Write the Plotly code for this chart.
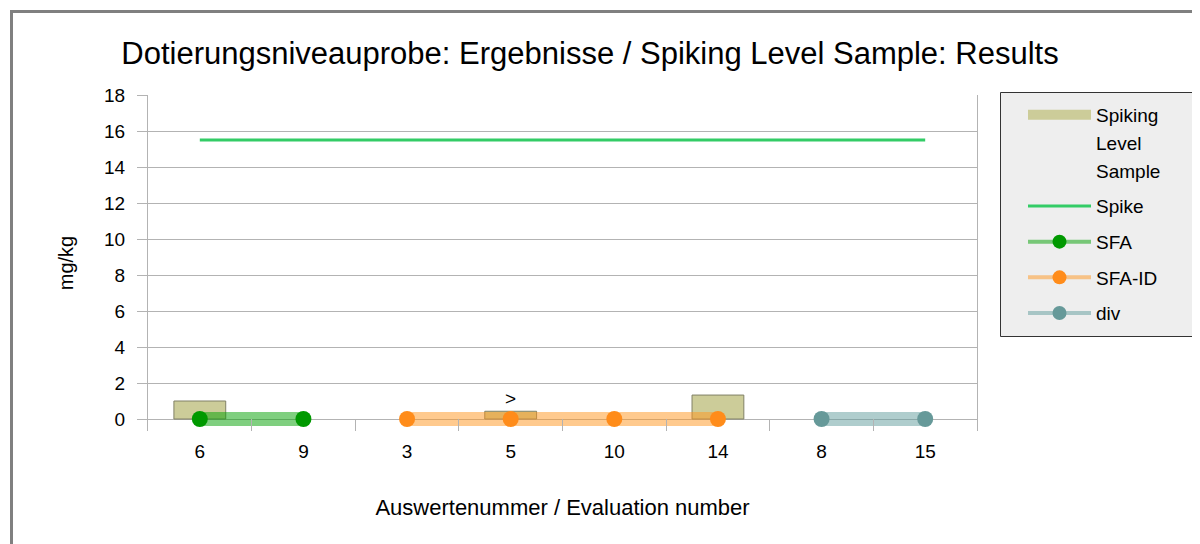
import plotly.graph_objects as go

# ---- data ----
categories = ["6", "9", "3", "5", "10", "14", "8", "15"]
spiking_level = [1.0, None, None, 0.43, None, 1.33, None, None]
spike_x = ["6", "15"]
spike_y = [15.5, 15.5]
sfa_x = ["6", "9"]
sfa_y = [0, 0]
sfaid_x = ["3", "5", "10", "14"]
sfaid_y = [0, 0, 0, 0]
div_x = ["8", "15"]
div_y = [0, 0]
bar_label_cat = "5"
bar_label_value = 0.43
bar_label_text = ">"
y_max = 18
y_dtick = 2

FONT = "Liberation Sans, Arial, sans-serif"
OFF = 8  # browser body margin
W, H = 1200 - OFF, 544 - OFF
# plot area in page pixels: x 148..977, y 95..431 (value 0 sits at y 419)
PX0, PX1, PY0, PY1 = 148, 977, 95, 431
ML, MR = PX0 - OFF, W - (PX1 - OFF)
MT, MB = PY0 - OFF, H - (PY1 - OFF)
PW, PH = PX1 - PX0, PY1 - PY0
Y_MIN = -12 / 18  # room below zero so the thick bands are not clipped


def px2x(px):
    return (px - PX0) / PW


def px2y(py):
    return (PY1 - py) / PH


fig = go.Figure()

# bars
fig.add_trace(go.Bar(
    x=categories, y=spiking_level, width=0.5,
    marker=dict(color="#cccc99", line=dict(color="#808066", width=1)),
    name="Spiking Level Sample", showlegend=False,
))

# spike line
fig.add_trace(go.Scatter(
    x=spike_x, y=spike_y, mode="lines",
    line=dict(color="#33cc66", width=3),
    name="Spike", legendgroup="g2", legendrank=10, showlegend=True,
))

series = [
    ("SFA", sfa_x, sfa_y, "rgba(0,160,0,0.5)", "#009900"),
    ("SFA-ID", sfaid_x, sfaid_y, "rgba(255,150,30,0.5)", "#ff8c1a"),
    ("div", div_x, div_y, "rgba(95,155,155,0.5)", "#669999"),
]
for name, xs, ys, lc, mc in series:
    fig.add_trace(go.Scatter(
        x=xs, y=ys, mode="lines+markers",
        line=dict(color=lc, width=14),
        marker=dict(color=mc, size=16),
        name=name, legendgroup=name, showlegend=False, cliponaxis=False,
    ))

# legend entries (legend-only traces)
fig.add_trace(go.Scatter(
    x=[None], y=[None], mode="lines",
    line=dict(color="#cccc99", width=12),
    name="Spiking", legendgroup="g1", legendrank=1, showlegend=True,
))
for i, word in enumerate(["Level", "Sample"]):
    fig.add_trace(go.Scatter(
        x=[None], y=[None], mode="lines",
        line=dict(color="rgba(0,0,0,0)", width=1),
        name=word, legendgroup="g1", legendrank=2 + i, showlegend=True,
    ))
for k, (name, xs, ys, lc, mc) in enumerate(series):
    fig.add_trace(go.Scatter(
        x=[None], y=[None], mode="lines+markers",
        line=dict(color=lc, width=4),
        marker=dict(color=mc, size=14),
        name=name, legendgroup=name, legendrank=20 + k, showlegend=True,
    ))

fig.add_annotation(
    x=categories.index(bar_label_cat), y=bar_label_value, text=bar_label_text,
    showarrow=False, yanchor="bottom", yshift=0,
    font=dict(family=FONT, size=19, color="#000"),
)

# outer frame
fig.add_shape(
    type="rect", xref="paper", yref="paper",
    x0=px2x(11.5), x1=px2x(1215), y0=px2y(560), y1=px2y(11.5),
    line=dict(color="#808080", width=3), fillcolor="rgba(0,0,0,0)", layer="below",
)
# legend box
fig.add_shape(
    type="rect", xref="paper", yref="paper",
    x0=px2x(1000.5), x1=px2x(1193.5), y0=px2y(336.5), y1=px2y(92.5),
    line=dict(color="#333333", width=1), fillcolor="#eeeeee", layer="above",
)

fig.update_layout(
    width=W, height=H,
    margin=dict(l=ML, r=MR, t=MT, b=MB, autoexpand=False),
    paper_bgcolor="white", plot_bgcolor="white",
    font=dict(family=FONT, size=19, color="#000"),
    title=dict(
        text="Dotierungsniveauprobe: Ergebnisse / Spiking Level Sample: Results",
        x=(590 - OFF) / W, xanchor="center", y=1 - (53 - OFF) / H, yanchor="middle",
        xref="container", yref="container",
        font=dict(family=FONT, size=31, color="#000"),
    ),
    showlegend=True,
    legend=dict(
        x=px2x(1023), y=px2y(96), xanchor="left", yanchor="top",
        bgcolor="rgba(0,0,0,0)", borderwidth=0,
        font=dict(family=FONT, size=19, color="#000"),
        itemwidth=63, traceorder="grouped", tracegroupgap=8, valign="middle",
    ),
    bargap=0.5,
)

fig.update_xaxes(
    type="category", categoryorder="array", categoryarray=categories,
    range=[-0.5, len(categories) - 0.5],
    tickson="boundaries", ticks="inside", ticklen=12, tickcolor="#b3b3b3",
    ticklabelstandoff=7,
    showline=False,
    showgrid=False,
    tickfont=dict(family=FONT, size=19, color="#000"),
    title=dict(text="Auswertenummer / Evaluation number",
               font=dict(family=FONT, size=22, color="#000"), standoff=38),
)
fig.update_yaxes(
    range=[Y_MIN, y_max], dtick=y_dtick, tick0=0,
    ticks="outside", ticklen=10, tickcolor="#b3b3b3",
    ticklabelstandoff=8,
    showline=True, linecolor="#b3b3b3", mirror=True,
    showgrid=True, gridcolor="#b3b3b3", gridwidth=1,
    zeroline=True, zerolinecolor="#b3b3b3", zerolinewidth=1,
    tickfont=dict(family=FONT, size=19, color="#000"),
    title=dict(text="mg/kg", font=dict(family=FONT, size=20, color="#000"), standoff=25),
)

fig.write_html("out.html")
